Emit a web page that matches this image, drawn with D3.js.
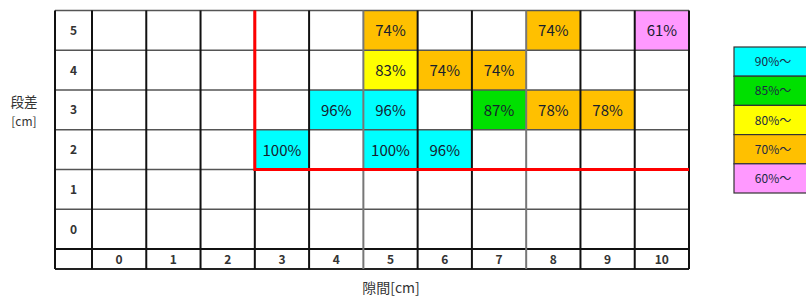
<!DOCTYPE html>
<html>
<head>
<meta charset="utf-8">
<script src="https://cdn.jsdelivr.net/npm/d3@7"></script>
<style>
  body { margin: 0; background: #fff; }
  text { font-family: "Noto Sans CJK JP", "Noto Sans", sans-serif; }
</style>
</head>
<body>
<svg id="chart" width="806" height="297"></svg>
<script>
"use strict"

// categories
var gapCats = [0, 1, 2, 3, 4, 5, 6, 7, 8, 9, 10];   // 隙間 [cm]
var stepCats = [5, 4, 3, 2, 1, 0];                  // 段差 [cm]

// measured cells
var cellGap  = [3, 4, 5, 5, 5, 5, 6, 6, 7, 7, 8, 8, 9, 10];
var cellStep = [2, 3, 5, 4, 3, 2, 4, 2, 4, 3, 5, 3, 3, 5];
var cellRate = [100, 96, 74, 83, 96, 100, 74, 96, 74, 87, 74, 78, 78, 61];

// legend
var legendLabels = ["90%～", "85%～", "80%～", "70%～", "60%～"];
var legendColors = ["#00ffff", "#00e000", "#ffff00", "#ffc000", "#ff99ff"];
var thresholds = [70, 80, 85, 90];

var svg = d3.select("#chart");

var gridLeft = 55, labelColRight = 92, gridRight = 689;
var gridTop = 10.5, gridBottom = 249, axisBottom = 269;

var x = d3.scaleBand().domain(gapCats).range([labelColRight, gridRight]);
var y = d3.scaleBand().domain(stepCats).range([gridTop, gridBottom]);

var color = d3.scaleThreshold()
    .domain(thresholds)
    .range(legendColors.slice().reverse());

var cells = cellRate.map(function(v, i) {
    return { gap: cellGap[i], step: cellStep[i], rate: v };
});

// coloured cells
var g = svg.append("g");
g.selectAll("rect.cell")
    .data(cells)
    .enter().append("rect")
    .attr("class", "cell")
    .attr("x", d => x(d.gap))
    .attr("y", d => y(d.step))
    .attr("width", x.bandwidth())
    .attr("height", y.bandwidth())
    .attr("fill", d => color(d.rate));

g.selectAll("text.cell")
    .data(cells)
    .enter().append("text")
    .attr("class", "cell")
    .attr("x", d => x(d.gap) + x.bandwidth() / 2)
    .attr("y", d => y(d.step) + y.bandwidth() / 2 + 6)
    .attr("text-anchor", "middle")
    .style("font-size", "15px")
    .style("fill", "#17202e")
    .text(d => d.rate + "%");

// horizontal grid lines
var hLines = stepCats.map(s => y(s)).concat([gridBottom]);
g.selectAll("line.h")
    .data(hLines)
    .enter().append("line")
    .attr("x1", gridLeft).attr("x2", gridRight)
    .attr("y1", d => d).attr("y2", d => d)
    .attr("stroke", (d, i) => i === hLines.length - 1 ? "#111" : "#555")
    .attr("stroke-width", (d, i) => i === hLines.length - 1 ? 2 : 1.5);

g.append("line")
    .attr("x1", gridLeft).attr("x2", gridRight)
    .attr("y1", axisBottom).attr("y2", axisBottom)
    .attr("stroke", "#222").attr("stroke-width", 2);

// vertical grid lines
var greyCols = [5, 8];
var vLines = [gridLeft].concat(gapCats.map(c => x(c)), [gridRight]);
g.selectAll("line.v")
    .data(vLines)
    .enter().append("line")
    .attr("x1", d => d).attr("x2", d => d)
    .attr("y1", gridTop).attr("y2", axisBottom)
    .attr("stroke", (d, i) => greyCols.indexOf(i - 1) >= 0 ? "#777" : "#111")
    .attr("stroke-width", 2);

// row labels
g.selectAll("text.ylab")
    .data(stepCats)
    .enter().append("text")
    .attr("x", (gridLeft + labelColRight) / 2)
    .attr("y", d => y(d) + y.bandwidth() / 2 + 4.5)
    .attr("text-anchor", "middle")
    .style("font-size", "12px")
    .style("font-weight", "bold")
    .style("fill", "#333")
    .text(d => d);

// column labels
g.selectAll("text.xlab")
    .data(gapCats)
    .enter().append("text")
    .attr("x", d => x(d) + x.bandwidth() / 2)
    .attr("y", (gridBottom + axisBottom) / 2 + 4.5)
    .attr("text-anchor", "middle")
    .style("font-size", "12px")
    .style("font-weight", "bold")
    .style("fill", "#333")
    .text(d => d);

// red boundary
g.append("path")
    .attr("d", d3.line()([
        [x(3), gridTop],
        [x(3), y(2) + y.bandwidth()],
        [gridRight, y(2) + y.bandwidth()]
    ]))
    .attr("fill", "none")
    .attr("stroke", "#ff0000")
    .attr("stroke-width", 3);

// axis titles
svg.append("text")
    .attr("x", 24).attr("y", 107)
    .attr("text-anchor", "middle")
    .style("font-size", "13.5px").style("fill", "#333")
    .text("段差");
svg.append("text")
    .attr("x", 24).attr("y", 126)
    .attr("text-anchor", "middle")
    .style("font-size", "12px").style("fill", "#333")
    .text("[cm]");
svg.append("text")
    .attr("x", 391).attr("y", 293)
    .attr("text-anchor", "middle")
    .style("font-size", "14px").style("fill", "#333")
    .text("隙間[cm]");

// legend
var ly = d3.scaleBand().domain(legendLabels).range([47, 193]);
var lg = svg.append("g");
lg.selectAll("rect")
    .data(legendLabels)
    .enter().append("rect")
    .attr("x", 734)
    .attr("y", d => ly(d))
    .attr("width", 80)
    .attr("height", ly.bandwidth())
    .attr("fill", (d, i) => legendColors[i])
    .attr("stroke", "#333")
    .attr("stroke-width", 1.2);
lg.selectAll("text")
    .data(legendLabels)
    .enter().append("text")
    .attr("x", 773)
    .attr("y", d => ly(d) + ly.bandwidth() / 2 + 4.5)
    .attr("text-anchor", "middle")
    .style("font-size", "12px")
    .style("fill", "#1c2a44")
    .text(d => d);
</script>
</body>
</html>
